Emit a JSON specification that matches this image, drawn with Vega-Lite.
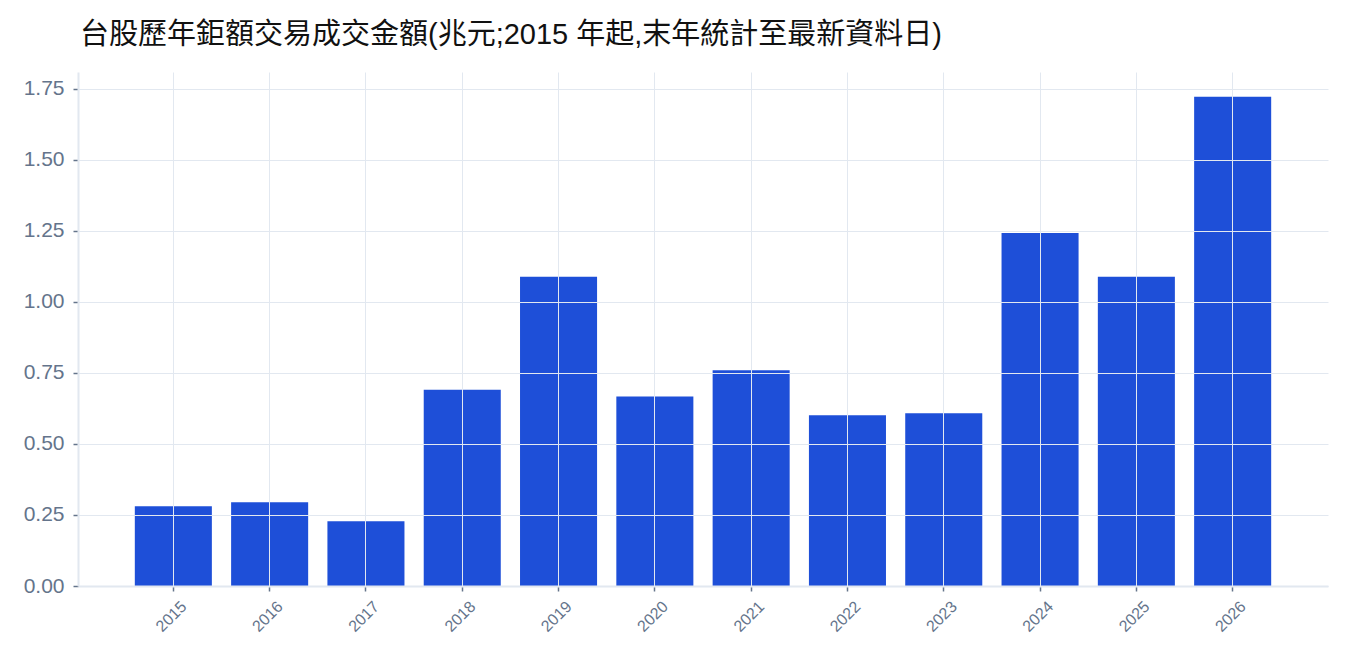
{
  "$schema": "https://vega.github.io/schema/vega-lite/v6.json",
  "description": "台股歷年鉅額交易成交金額",
  "autosize": "none",
  "width": 1250,
  "height": 514,
  "padding": {"left": 78, "top": 72, "right": 22, "bottom": 74},
  "background": "white",
  "title": {
    "text": "台股歷年鉅額交易成交金額(兆元;2015 年起,末年統計至最新資料日)",
    "anchor": "start",
    "frame": "group",
    "dx": 2,
    "offset": 22,
    "font": "Liberation Sans, Noto Sans CJK TC",
    "fontSize": 29,
    "fontWeight": "normal",
    "color": "#111111"
  },
  "config": {
    "view": {"stroke": null},
    "axis": {
      "labelFont": "Liberation Sans",
      "labelColor": "#64748b",
      "gridColor": "#e2e8f0",
      "gridWidth": 1,
      "domainColor": "#e2e8f0",
      "domainWidth": 2,
      "tickColor": "#64748b",
      "tickSize": 5,
      "tickWidth": 1.5
    }
  },
  "data": {
    "values": [
      {"year": "2015", "value": 0.281},
      {"year": "2016", "value": 0.295},
      {"year": "2017", "value": 0.228},
      {"year": "2018", "value": 0.691},
      {"year": "2019", "value": 1.088},
      {"year": "2020", "value": 0.667},
      {"year": "2021", "value": 0.759},
      {"year": "2022", "value": 0.601},
      {"year": "2023", "value": 0.608},
      {"year": "2024", "value": 1.242},
      {"year": "2025", "value": 1.088},
      {"year": "2026", "value": 1.722}
    ]
  },
  "mark": {"type": "bar", "color": "#1e4fd8"},
  "encoding": {
    "x": {
      "field": "year",
      "type": "ordinal",
      "title": null,
      "scale": {"paddingInner": 0.2, "paddingOuter": 0.59},
      "axis": {
        "labelAngle": -45,
        "labelFontSize": 16,
        "labelPadding": 7,
        "labelOffset": 5,
        "grid": true,
        "domain": true,
        "zindex": 1
      }
    },
    "y": {
      "field": "value",
      "type": "quantitative",
      "title": null,
      "scale": {"domain": [0, 1.809], "nice": false},
      "axis": {
        "values": [0, 0.25, 0.5, 0.75, 1, 1.25, 1.5, 1.75],
        "format": ".2f",
        "labelFontSize": 21,
        "labelPadding": 9,
        "grid": true,
        "zindex": 1
      }
    }
  }
}
